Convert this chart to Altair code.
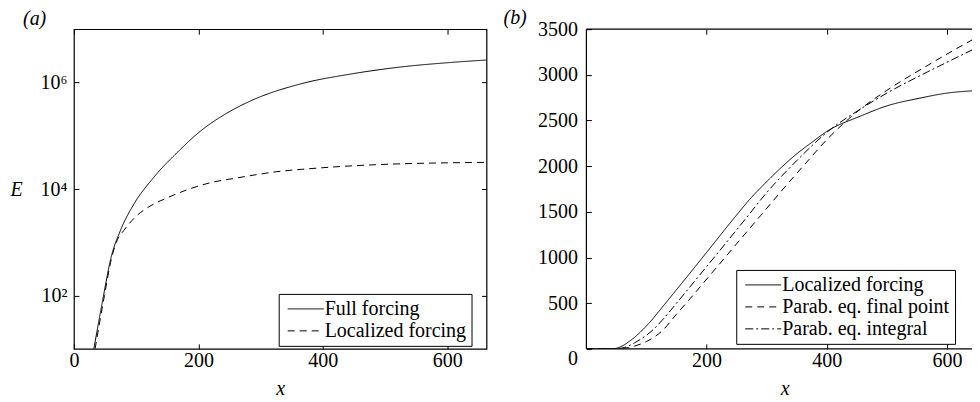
import altair as alt
import pandas as pd

FONT = "Liberation Serif"

# ---------------- panel (a): E on log axis ----------------
A_SERIES = ["Full forcing", "Localized forcing"]
A_FULL_X = [32, 40, 48, 59, 75.5, 96, 128, 169, 204, 244, 284, 364, 445, 525, 605, 663]
A_FULL_E = [10, 33, 107, 481, 1750, 5130, 16400, 52500, 124000, 258000, 451000, 938000,
            1440000, 1950000, 2370000, 2640000]
A_LOC_X = [34, 49, 60, 70, 80, 88, 103, 124, 151, 183, 220, 263, 316, 400, 493, 663]
A_LOC_E = [10, 100, 479, 1122, 1660, 2188, 3311, 4898, 6918, 9772, 13183, 16218,
           20417, 25119, 28840, 31623]
A_X_TICKS = [0, 200, 400, 600]
A_Y_TICKS = [100, 10000, 1000000]

# ---------------- panel (b): linear axis ----------------
B_SERIES = ["Localized forcing", "Parab. eq. final point", "Parab. eq. integral"]
B_LOC_X = [0, 40, 48, 56, 64, 72, 80, 90, 104, 120, 136, 170, 203, 246, 275, 300,
           325, 350, 375, 400, 456, 500, 555, 600, 660]
B_LOC_Y = [0, 0, 4, 20, 48, 85, 125, 185, 280, 405, 535, 810, 1080, 1433, 1660, 1830,
           1990, 2135, 2260, 2380, 2548, 2660, 2745, 2800, 2830]
B_FIN_X = [0, 50, 60, 70, 80, 90, 100, 112, 126, 150, 170, 210, 250, 290, 330, 370,
           400, 430, 456, 500, 567, 610, 660]
B_FIN_Y = [0, 0, 4, 14, 30, 52, 80, 125, 197, 380, 530, 840, 1150, 1460, 1770, 2070,
           2290, 2480, 2625, 2830, 3100, 3265, 3448]
B_INT_X = [0, 45, 55, 63, 70, 80, 90, 100, 112, 125, 140, 150, 200, 266, 300, 350,
           400, 456, 500, 567, 610, 660]
B_INT_Y = [0, 0, 4, 15, 32, 65, 105, 150, 215, 305, 420, 500, 900, 1433, 1710, 2060,
           2370, 2625, 2800, 3030, 3170, 3330]
B_X_TICKS = [200, 400, 600]
B_Y_TICKS = [0, 500, 1000, 1500, 2000, 2500, 3000, 3500]

DASHES_A = [[1, 0], [7, 5]]
DASHES_B = [[1, 0], [7, 5], [8, 3, 2, 3]]

W_A, W_B, H = 413, 397, 320


def frame(names, xs, ys, col):
    rows = []
    for n, xv, yv in zip(names, xs, ys):
        for a, b in zip(xv, yv):
            rows.append({"x": a, col: b, "series": n})
    return pd.DataFrame(rows)


df_a = frame(A_SERIES, [A_FULL_X, A_LOC_X], [A_FULL_E, A_LOC_E], "E")
df_b = frame(B_SERIES, [B_LOC_X, B_FIN_X, B_INT_X], [B_LOC_Y, B_FIN_Y, B_INT_Y], "v")

tick_common = dict(offset=-5, tickSize=5, domain=False, grid=False,
                   tickColor="black", tickWidth=1)


def legend(x, y):
    # short custom path scaled out to a ~36px sample line, so rows stay text-high
    return alt.Legend(title=None, orient="none", legendX=x, legendY=y,
                      symbolType="M-3,0H3", symbolSize=144, symbolStrokeWidth=1,
                      symbolStrokeColor="black", symbolFillColor="transparent",
                      symbolOffset=12, labelOffset=9,
                      labelFont=FONT, labelFontSize=20,
                      labelColor="black", strokeColor="black", fillColor="white",
                      padding=5, rowPadding=2, cornerRadius=0, labelLimit=400)


# ---- panel (a)
xsc_a = alt.Scale(domain=[0, 663], nice=False, zero=False)
ysc_a = alt.Scale(type="log", domain=[10, 1e7], nice=False)
lbl_a = "datum.value == 100 ? '10²' : datum.value == 10000 ? '10⁴' : '10⁶'"

lines_a = alt.Chart(df_a).mark_line(color="black", strokeWidth=1, interpolate="monotone",
                                    clip=True).encode(
    x=alt.X("x:Q", scale=xsc_a,
            axis=alt.Axis(values=A_X_TICKS, title="x", labelPadding=2, labelFlush=False,
                          titleFontStyle="italic", titlePadding=8, **tick_common)),
    y=alt.Y("E:Q", scale=ysc_a,
            axis=alt.Axis(values=A_Y_TICKS, labelExpr=lbl_a, title="E", titleAngle=0,
                          titleX=-63, titleY=160, titleAlign="center",
                          titleBaseline="middle", titleFontStyle="italic",
                          labelPadding=7, labelFlush=False, **tick_common)),
    strokeDash=alt.StrokeDash("series:N", scale=alt.Scale(domain=A_SERIES, range=DASHES_A),
                              legend=legend(205, 265)),
)
mirror_a = alt.Chart(df_a).mark_line(opacity=0).encode(
    x=alt.X("x:Q", scale=xsc_a,
            axis=alt.Axis(orient="top", values=A_X_TICKS, labels=False, title=None, **tick_common)),
    y=alt.Y("E:Q", scale=ysc_a,
            axis=alt.Axis(orient="right", values=A_Y_TICKS, labels=False, title=None, **tick_common)),
    detail="series:N",
)
panel_a = alt.layer(lines_a, mirror_a).resolve_axis(x="independent", y="independent").properties(
    width=W_A, height=H,
    view=alt.ViewBackground(stroke="black", strokeWidth=1.2),
    title=alt.TitleParams("(a)", anchor="start", font=FONT, fontSize=20, fontWeight="normal",
                          fontStyle="italic", color="black", dx=-51, dy=22, offset=6,
                          baseline="alphabetic", frame="group"))

# ---- panel (b)
xsc_b = alt.Scale(domain=[0, 660], nice=False, zero=False)
ysc_b = alt.Scale(domain=[0, 3500], nice=False, zero=False)

lines_b = alt.Chart(df_b).mark_line(color="black", strokeWidth=1, interpolate="monotone",
                                    clip=True).encode(
    x=alt.X("x:Q", scale=xsc_b,
            axis=alt.Axis(values=B_X_TICKS, title="x", labelPadding=2, labelFlush=False,
                          titleFontStyle="italic", titlePadding=8, **tick_common)),
    y=alt.Y("v:Q", scale=ysc_b,
            axis=alt.Axis(values=B_Y_TICKS, title=None, format="d", labelPadding=9,
                          labelFlush=False,
                          labelOffset={"condition": {"test": "datum.value === 0", "value": 10},
                                       "value": 0},
                          **tick_common)),
    strokeDash=alt.StrokeDash("series:N", scale=alt.Scale(domain=B_SERIES, range=DASHES_B),
                              legend=legend(150, 241)),
)
mirror_b = alt.Chart(df_b).mark_line(opacity=0, clip=True).encode(
    x=alt.X("x:Q", scale=xsc_b,
            axis=alt.Axis(orient="top", values=B_X_TICKS, labels=False, title=None, **tick_common)),
    y=alt.Y("v:Q", scale=ysc_b, axis=None),
    detail="series:N",
)
# frame of panel (b): left, top and bottom only (the right edge is cut off in the figure)
one = pd.DataFrame({"k": [0]})
frame_style = dict(color="black", strokeWidth=1.2)
border_top = alt.Chart(one).mark_rule(**frame_style).encode(
    x=alt.value(0), x2=alt.value(W_B), y=alt.value(0))
border_bot = alt.Chart(one).mark_rule(**frame_style).encode(
    x=alt.value(0), x2=alt.value(W_B), y=alt.value(H))
border_left = alt.Chart(one).mark_rule(**frame_style).encode(
    x=alt.value(0), y=alt.value(0), y2=alt.value(H))

panel_b = alt.layer(lines_b, mirror_b, border_top, border_bot, border_left).resolve_axis(
    x="independent", y="independent").properties(
    width=W_B, height=H,
    view=alt.ViewBackground(stroke="transparent"),
    title=alt.TitleParams("(b)", anchor="start", font=FONT, fontSize=20, fontWeight="normal",
                          fontStyle="italic", color="black", dx=-83, dy=31, offset=6,
                          baseline="alphabetic", frame="group"))

chart = alt.hconcat(panel_a, panel_b, spacing=100, bounds="flush").resolve_scale(
    x="independent", y="independent", strokeDash="independent"
).resolve_legend(strokeDash="independent").properties(
    padding={"left": 1, "top": -1, "right": -13, "bottom": 0}
).configure_axis(
    labelFont=FONT, titleFont=FONT, labelFontSize=20, titleFontSize=20,
    labelColor="black", titleColor="black", titleFontWeight="normal"
)

chart.save("out.html", embed_options={"renderer": "svg", "actions": False})
